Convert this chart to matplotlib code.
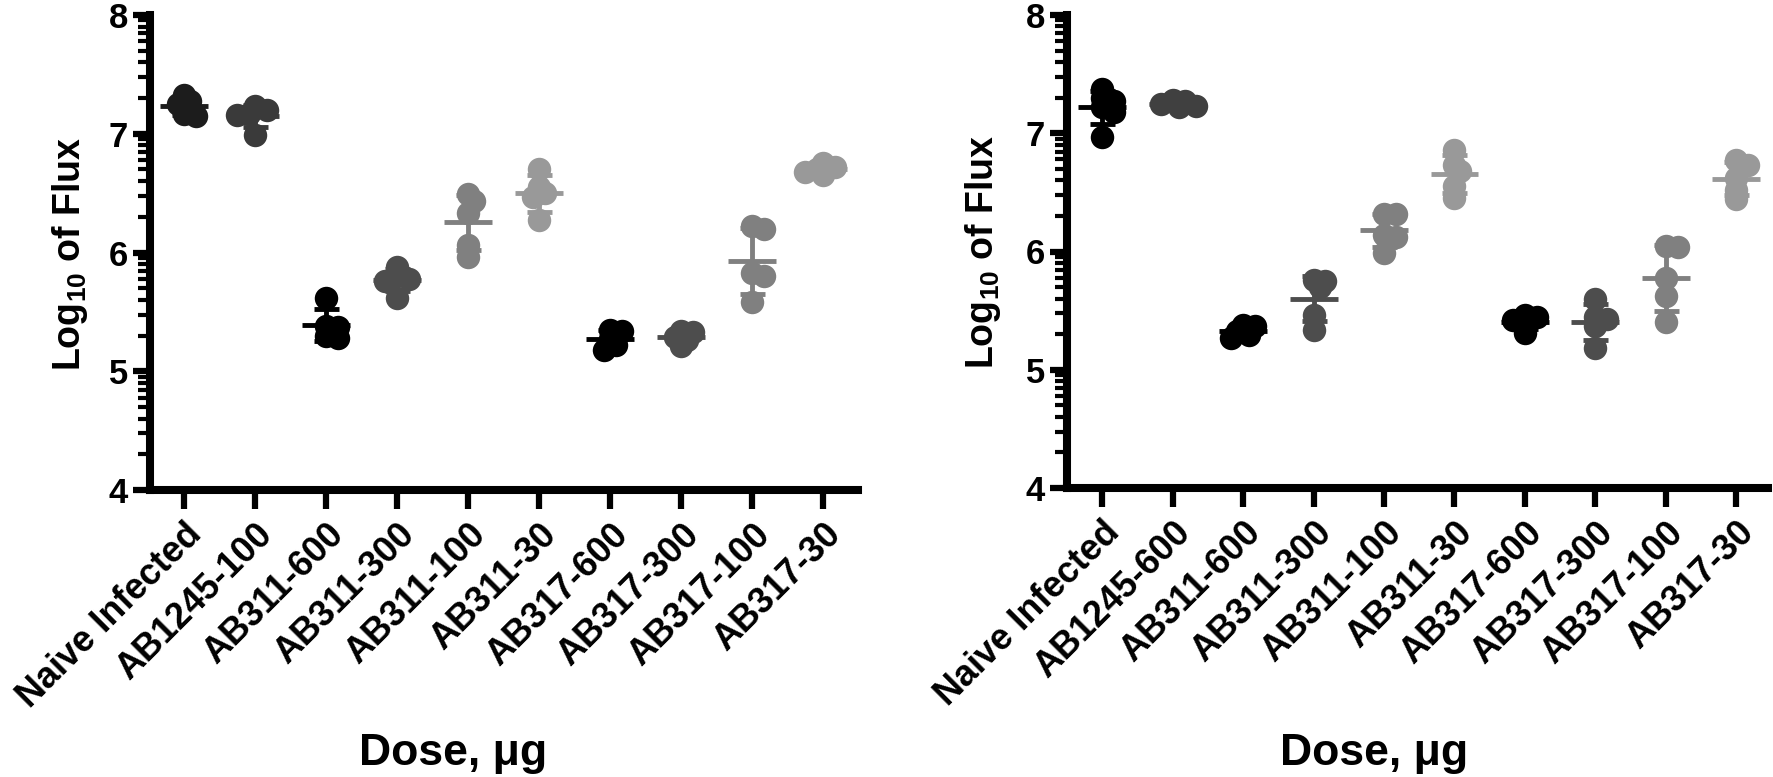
import numpy as np
import matplotlib.pyplot as plt
from matplotlib.ticker import FixedLocator

plt.rcParams['font.family'] = ['Liberation Sans', 'DejaVu Sans']
plt.rcParams['font.weight'] = 'bold'
plt.rcParams['mathtext.fontset'] = 'custom'
plt.rcParams['mathtext.rm'] = 'Liberation Sans:bold'
plt.rcParams['mathtext.bf'] = 'Liberation Sans:bold'
plt.rcParams['mathtext.it'] = 'Liberation Sans:bold:italic'

# group names
labels_left = ['Naive Infected', 'AB1245-100', 'AB311-600', 'AB311-300', 'AB311-100',
               'AB311-30', 'AB317-600', 'AB317-300', 'AB317-100', 'AB317-30']
labels_right = ['Naive Infected', 'AB1245-600', 'AB311-600', 'AB311-300', 'AB311-100',
                'AB311-30', 'AB317-600', 'AB317-300', 'AB317-100', 'AB317-30']

# log10 flux per animal
flux_left = [
    [7.33, 7.28, 7.25, 7.17, 7.15],
    [7.23, 7.20, 7.17, 7.16, 6.99],
    [5.62, 5.38, 5.37, 5.30, 5.28],
    [5.88, 5.80, 5.78, 5.76, 5.62],
    [6.49, 6.43, 6.33, 6.06, 5.96],
    [6.70, 6.55, 6.50, 6.47, 6.27],
    [5.35, 5.34, 5.27, 5.22, 5.18],
    [5.34, 5.33, 5.29, 5.26, 5.21],
    [6.22, 6.20, 5.83, 5.80, 5.58],
    [6.75, 6.72, 6.70, 6.68, 6.65],
]
flux_right = [
    [7.37, 7.30, 7.27, 7.22, 7.18, 6.97],
    [7.28, 7.27, 7.25, 7.23, 7.22],
    [5.38, 5.37, 5.33, 5.29, 5.27],
    [5.76, 5.75, 5.70, 5.46, 5.34],
    [6.32, 6.32, 6.14, 6.12, 5.99],
    [6.86, 6.73, 6.68, 6.55, 6.45],
    [5.46, 5.45, 5.42, 5.39, 5.31],
    [5.60, 5.45, 5.43, 5.37, 5.18],
    [6.05, 6.04, 5.78, 5.62, 5.40],
    [6.77, 6.73, 6.62, 6.52, 6.44],
]

grays_left = ['#1c1c1c', '#3a3a3a', '#000000', '#4d4d4d', '#808080',
              '#999999', '#000000', '#4d4d4d', '#808080', '#999999']
grays_right = ['#000000', '#404040', '#000000', '#4d4d4d', '#808080',
               '#999999', '#000000', '#4d4d4d', '#808080', '#999999']


def swarm(vals, px_x=71.0, px_y=118.5, diam=23.0):
    # simple beeswarm: spread overlapping points sideways (pixel space)
    sep = 0.36 * diam
    step = 0.26 * diam
    placed = []
    offs = np.zeros(len(vals))
    for i in np.argsort(vals)[::-1]:
        y = vals[i] * px_y
        k = 0
        while True:
            cands = [0.0] if k == 0 else [k * step, -k * step]
            ok = None
            for dx in cands:
                if all(np.hypot(dx - px, y - py) >= sep for px, py in placed):
                    ok = dx
                    break
            if ok is not None:
                break
            k += 1
        placed.append((ok, y))
        offs[i] = ok / px_x
    return offs


def draw_panel(ax, data, colors, labels, xlim):
    for i, (vals, c) in enumerate(zip(data, colors)):
        vals = np.array(vals)
        offs = swarm(vals)
        ax.scatter(i + offs, vals, s=285, color=c, linewidths=0, zorder=3, clip_on=False)
        m = vals.mean()
        sd = vals.std(ddof=1)
        ax.errorbar(i, m, yerr=sd, fmt='none', ecolor=c, elinewidth=3.5,
                    capsize=9, capthick=3.5, zorder=4)
        ax.hlines(m, i - 0.34, i + 0.34, color=c, lw=3.5, zorder=4)

    ax.set_xlim(*xlim)
    ax.set_ylim(4, 8)
    ax.set_yticks([4, 5, 6, 7, 8])
    minors = [n + np.log10(k) for n in range(4, 8) for k in range(2, 10)]
    ax.yaxis.set_minor_locator(FixedLocator(minors))
    ax.set_xticks(range(len(labels)))
    ax.set_xticklabels(labels, rotation=45, ha='right', va='top',
                       rotation_mode='anchor', fontsize=26, fontweight='bold')
    for t in ax.get_yticklabels():
        t.set_fontweight('bold')
    ax.spines[['top', 'right']].set_visible(False)
    for s in ['left', 'bottom']:
        ax.spines[s].set_linewidth(5.8)
        ax.spines[s].set_capstyle('projecting')
    ax.tick_params(axis='y', which='major', length=12, width=4.5, labelsize=25, pad=4)
    ax.tick_params(axis='y', which='minor', length=8.5, width=3)
    ax.tick_params(axis='x', which='major', length=13.5, width=4.5, pad=6)


fig = plt.figure(figsize=(17.73, 7.77), dpi=100)
W, H = 1773.0, 777.0

ax1 = fig.add_axes([150 / W, 1 - 490 / H, 708 / W, 475 / H])
draw_panel(ax1, flux_left, grays_left, labels_left, (-0.48, 9.49))

ax2 = fig.add_axes([1067 / W, 1 - 488 / H, 701 / W, 473 / H])
draw_panel(ax2, flux_right, grays_right, labels_right, (-0.5, 9.45))

for xc, yc in [(70, 254), (983, 252)]:
    fig.text(xc / W, 1 - yc / H, r'Log$_{\mathrm{10}}$ of Flux', rotation=90,
             ha='center', va='center', fontsize=27, fontweight='bold')

for xc in [453, 1374]:
    fig.text(xc / W, 1 - 765 / H, 'Dose, \u03bcg', ha='center', va='baseline',
             fontsize=32, fontweight='bold')

fig.savefig('out.png', dpi=100)
